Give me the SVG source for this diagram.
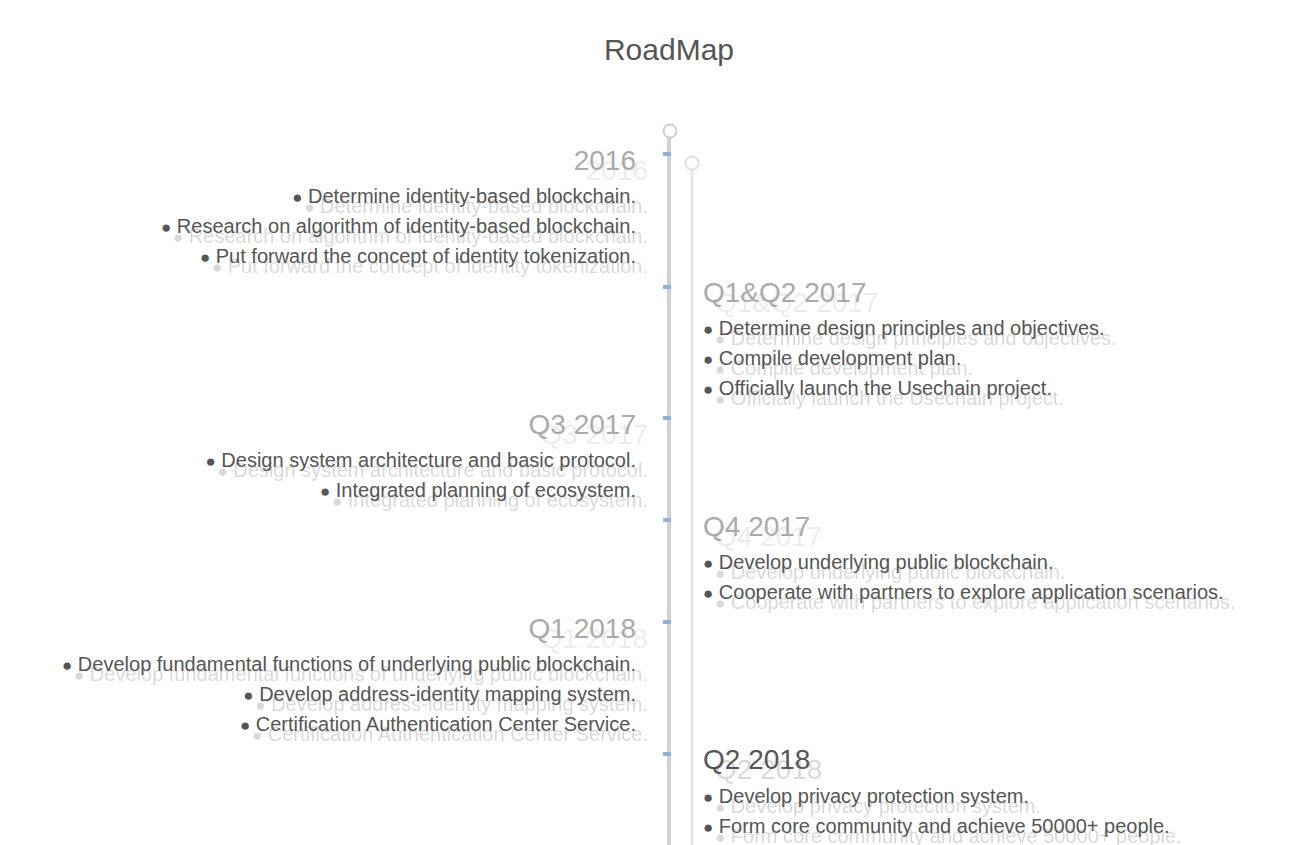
<svg xmlns="http://www.w3.org/2000/svg" width="1306" height="845" viewBox="0 0 1306 845">
<defs>
<filter id="soft" x="-5%" y="-20%" width="110%" height="140%"><feGaussianBlur stdDeviation="0.7"/></filter>
</defs>
<style>
text{font-family:"Liberation Sans",Arial,sans-serif}
.title{font-size:30px;fill:#555;text-anchor:middle}
.hd{font-size:28px;fill:#aaa}
.hd.on{fill:#555}
.it{font-size:20px;fill:#555}
.b{font-size:17px}
.l{text-anchor:end}
.ghost{opacity:0.22;filter:url(#soft)}
.tick{fill:#8fb0e2}
</style>
<rect width="1306" height="845" fill="#fff"/>
<text class="title" x="669" y="60">RoadMap</text>

<g id="ghost" class="ghost" transform="translate(12,10)">
<text class="hd l" x="636" y="170">2016</text>
<text class="it l" x="636" y="203"><tspan class="b">●</tspan> Determine identity-based blockchain.</text>
<text class="it l" x="636" y="233"><tspan class="b">●</tspan> Research on algorithm of identity-based blockchain.</text>
<text class="it l" x="636" y="263"><tspan class="b">●</tspan> Put forward the concept of identity tokenization.</text>
<text class="hd" x="703" y="302">Q1&amp;Q2 2017</text>
<text class="it" x="703" y="335"><tspan class="b">●</tspan> Determine design principles and objectives.</text>
<text class="it" x="703" y="365"><tspan class="b">●</tspan> Compile development plan.</text>
<text class="it" x="703" y="395"><tspan class="b">●</tspan> Officially launch the Usechain project.</text>
<text class="hd l" x="636" y="434">Q3 2017</text>
<text class="it l" x="636" y="467"><tspan class="b">●</tspan> Design system architecture and basic protocol.</text>
<text class="it l" x="636" y="497"><tspan class="b">●</tspan> Integrated planning of ecosystem.</text>
<text class="hd" x="703" y="536">Q4 2017</text>
<text class="it" x="703" y="569"><tspan class="b">●</tspan> Develop underlying public blockchain.</text>
<text class="it" x="703" y="599"><tspan class="b">●</tspan> Cooperate with partners to explore application scenarios.</text>
<text class="hd l" x="636" y="638">Q1 2018</text>
<text class="it l" x="636" y="671"><tspan class="b">●</tspan> Develop fundamental functions of underlying public blockchain.</text>
<text class="it l" x="636" y="701"><tspan class="b">●</tspan> Develop address-identity mapping system.</text>
<text class="it l" x="636" y="731"><tspan class="b">●</tspan> Certification Authentication Center Service.</text>
<text class="hd on" x="703" y="769">Q2 2018</text>
<text class="it" x="703" y="803"><tspan class="b">●</tspan> Develop privacy protection system.</text>
<text class="it" x="703" y="833"><tspan class="b">●</tspan> Form core community and achieve 50000+ people.</text>
</g>

<g id="connectors">
<line x1="692" y1="170" x2="692" y2="845" stroke="#e6e6e6" stroke-width="3"/>
<circle cx="692" cy="163" r="6.5" fill="#fff" stroke="#e2e2e2" stroke-width="2"/>
<line x1="669" y1="138" x2="669" y2="845" stroke="#d2d2d2" stroke-width="4"/>
<circle cx="670" cy="131" r="6.5" fill="#fff" stroke="#cfcfcf" stroke-width="2"/>
<rect class="tick" x="663" y="152" width="8" height="4"/>
<rect class="tick" x="663" y="285" width="8" height="4"/>
<rect class="tick" x="663" y="416" width="8" height="4"/>
<rect class="tick" x="663" y="518" width="8" height="4"/>
<rect class="tick" x="663" y="620" width="8" height="4"/>
<rect class="tick" x="663" y="752" width="8" height="4"/>
</g>

<g id="n2016">
<text class="hd l" x="636" y="170">2016</text>
<text class="it l" x="636" y="203"><tspan class="b">●</tspan> Determine identity-based blockchain.</text>
<text class="it l" x="636" y="233"><tspan class="b">●</tspan> Research on algorithm of identity-based blockchain.</text>
<text class="it l" x="636" y="263"><tspan class="b">●</tspan> Put forward the concept of identity tokenization.</text>
</g>
<g id="nQ1Q2-2017">
<text class="hd" x="703" y="302">Q1&amp;Q2 2017</text>
<text class="it" x="703" y="335"><tspan class="b">●</tspan> Determine design principles and objectives.</text>
<text class="it" x="703" y="365"><tspan class="b">●</tspan> Compile development plan.</text>
<text class="it" x="703" y="395"><tspan class="b">●</tspan> Officially launch the Usechain project.</text>
</g>
<g id="nQ3-2017">
<text class="hd l" x="636" y="434">Q3 2017</text>
<text class="it l" x="636" y="467"><tspan class="b">●</tspan> Design system architecture and basic protocol.</text>
<text class="it l" x="636" y="497"><tspan class="b">●</tspan> Integrated planning of ecosystem.</text>
</g>
<g id="nQ4-2017">
<text class="hd" x="703" y="536">Q4 2017</text>
<text class="it" x="703" y="569"><tspan class="b">●</tspan> Develop underlying public blockchain.</text>
<text class="it" x="703" y="599"><tspan class="b">●</tspan> Cooperate with partners to explore application scenarios.</text>
</g>
<g id="nQ1-2018">
<text class="hd l" x="636" y="638">Q1 2018</text>
<text class="it l" x="636" y="671"><tspan class="b">●</tspan> Develop fundamental functions of underlying public blockchain.</text>
<text class="it l" x="636" y="701"><tspan class="b">●</tspan> Develop address-identity mapping system.</text>
<text class="it l" x="636" y="731"><tspan class="b">●</tspan> Certification Authentication Center Service.</text>
</g>
<g id="nQ2-2018">
<text class="hd on" x="703" y="769">Q2 2018</text>
<text class="it" x="703" y="803"><tspan class="b">●</tspan> Develop privacy protection system.</text>
<text class="it" x="703" y="833"><tspan class="b">●</tspan> Form core community and achieve 50000+ people.</text>
</g>
</svg>
